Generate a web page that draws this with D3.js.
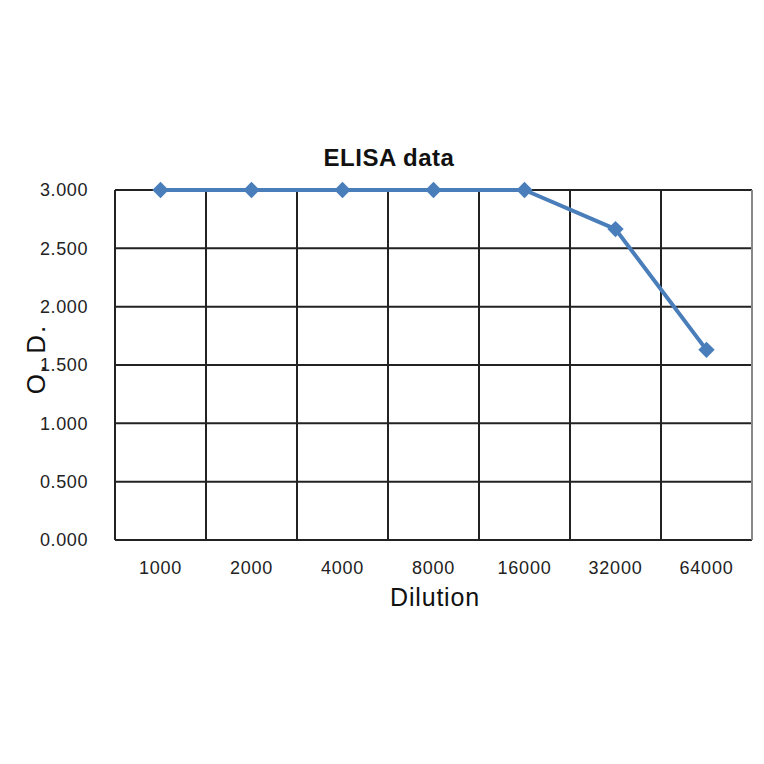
<!DOCTYPE html>
<html><head><meta charset="utf-8">
<script src="https://cdn.jsdelivr.net/npm/d3@7"></script>
<style>body{margin:0;background:#fff}svg{display:block}text{font-family:"Liberation Sans",Arial,sans-serif}</style>
</head><body>
<svg id="c" width="764" height="764"></svg>
<script>
const categories = ["1000","2000","4000","8000","16000","32000","64000"];
const values = [3.0, 3.0, 3.0, 3.0, 3.0, 2.665, 1.63];
const yTicks = [0, 0.5, 1.0, 1.5, 2.0, 2.5, 3.0];

const svg = d3.select("#c");
const L = 115, R = 752, T = 190, B = 540;
const x = d3.scaleBand().domain(categories).range([L, R]);
const y = d3.scaleLinear().domain([0, 3]).range([B, T]);

// horizontal gridlines
svg.append("g").selectAll("line").data(yTicks).join("line")
  .attr("x1", L).attr("x2", R).attr("y1", d => y(d)).attr("y2", d => y(d))
  .attr("stroke", "#222").attr("stroke-width", 2);
// vertical gridlines at category boundaries
const bounds = categories.map(c => x(c)).concat([R]);
svg.append("g").selectAll("line").data(bounds).join("line")
  .attr("x1", d => d).attr("x2", d => d).attr("y1", T).attr("y2", B)
  .attr("stroke", (d, i) => i === bounds.length - 1 ? "#888" : "#222").attr("stroke-width", 2);

// y tick labels
svg.append("g").selectAll("text").data(yTicks).join("text")
  .attr("x", 88).attr("y", d => y(d)).attr("dy", "0.36em")
  .attr("text-anchor", "end").attr("font-size", 18).attr("letter-spacing", 0.6).attr("fill", "#222")
  .text(d => d3.format(".3f")(d));
// x tick labels
svg.append("g").selectAll("text").data(categories).join("text")
  .attr("x", d => x(d) + x.bandwidth() / 2).attr("y", 574)
  .attr("text-anchor", "middle").attr("font-size", 18).attr("letter-spacing", 0.8).attr("fill", "#222")
  .text(d => d);

// line
const line = d3.line().x((d, i) => x(categories[i]) + x.bandwidth() / 2).y(d => y(d));
svg.append("path").datum(values).attr("d", line)
  .attr("fill", "none").attr("stroke", "#4A7EBB").attr("stroke-width", 4).attr("stroke-linejoin", "round");
svg.append("g").selectAll("path").data(values).join("path")
  .attr("d", d3.symbol().type(d3.symbolDiamond2).size(170))
  .attr("transform", (d, i) => `translate(${x(categories[i]) + x.bandwidth() / 2},${y(d)})`)
  .attr("fill", "#4A7EBB");

// title and axis titles
svg.append("text").attr("x", 389).attr("y", 166).attr("text-anchor", "middle")
  .attr("font-size", 24).attr("font-weight", "bold").attr("letter-spacing", 0.5).attr("fill", "#111").text("ELISA data");
svg.append("text").attr("x", 435).attr("y", 606).attr("text-anchor", "middle")
  .attr("font-size", 25).attr("letter-spacing", 0.8).attr("fill", "#111").text("Dilution");
svg.append("text").attr("transform", "translate(45,359) rotate(-90)").attr("text-anchor", "middle")
  .attr("font-size", 26).attr("letter-spacing", 2).attr("fill", "#111").text("O. D.");
</script>
</body></html>
